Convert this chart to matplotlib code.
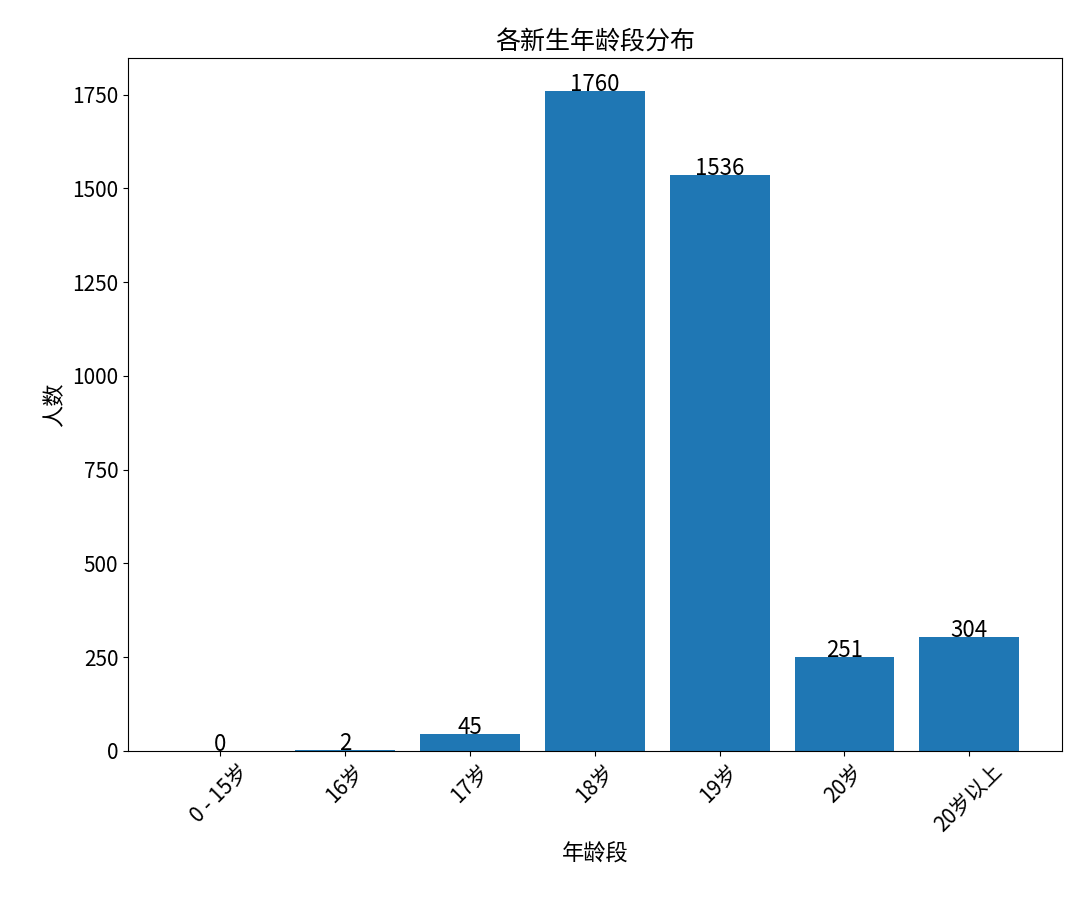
import matplotlib
matplotlib.use("Agg")
import matplotlib.pyplot as plt

plt.rcParams['font.family'] = ['Noto Sans CJK SC', 'DejaVu Sans']

categories = ['0 - 15岁', '16岁', '17岁', '18岁', '19岁', '20岁', '20岁以上']
values = [0, 2, 45, 1760, 1536, 251, 304]

fig = plt.figure(figsize=(10.8, 9.19), dpi=100)
ax = fig.add_axes([0.1185, 0.183, 0.8645, 0.754])
bars = ax.bar(categories, values, color='#1f77b4')
for i, v in enumerate(values):
    ax.text(i, v, str(v), ha='center', va='baseline', fontsize=16)
ax.set_title('各新生年龄段分布', fontsize=18)
ax.set_xlabel('年龄段', fontsize=16)
ax.set_ylabel('人数', fontsize=16)
ax.tick_params(labelsize=15)
plt.setp(ax.get_xticklabels(), rotation=45)
fig.savefig('out.png', dpi=100)
